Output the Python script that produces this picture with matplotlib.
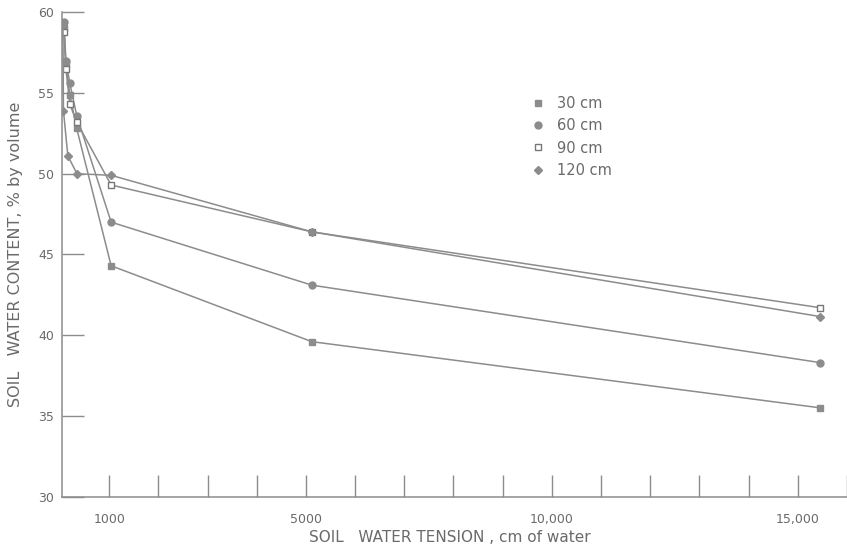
import matplotlib
matplotlib.use("Agg")
import matplotlib.pyplot as plt
from matplotlib.lines import Line2D

# Data
tension_30 = [80, 120, 200, 340, 1040, 5120, 15460]
content_30 = [59.0, 56.8, 54.9, 52.8, 44.3, 39.6, 35.5]

tension_60 = [80, 120, 200, 340, 1040, 5120, 15460]
content_60 = [59.4, 57.0, 55.6, 53.6, 47.0, 43.1, 38.3]

tension_90 = [80, 120, 200, 340, 1040, 5120, 15460]
content_90 = [58.8, 56.5, 54.3, 53.2, 49.3, 46.4, 41.7]

tension_120 = [60, 70, 160, 345, 1040, 5120, 15460]
content_120 = [59.3, 53.9, 51.1, 50.0, 49.9, 46.4, 41.15]

series_labels = ["30 cm", "60 cm", "90 cm", "120 cm"]
x_major = [1000, 5000, 10000, 15000]
x_major_labels = ["1000", "5000", "10,000", "15,000"]
x_minor = list(range(1000, 17000, 1000))
y_ticks = [30, 35, 40, 45, 50, 55, 60]

GRAY = "#8c8c8c"
TEXT = "#6a6a6a"

fig = plt.figure(figsize=(8.47, 5.46), dpi=100)
ax = fig.add_axes([62.3 / 847, 1 - 496.7 / 546, 1 - 62.3 / 847, (496.7 - 12.2) / 546])

styles = [
    dict(marker="s", ms=5.0, mfc=GRAY, mec=GRAY),
    dict(marker="o", ms=5.0, mfc=GRAY, mec=GRAY),
    dict(marker="s", ms=5.0, mfc="white", mec="#777777", mew=1.0),
    dict(marker="D", ms=3.8, mfc=GRAY, mec=GRAY),
]
data = [(tension_30, content_30), (tension_60, content_60),
        (tension_90, content_90), (tension_120, content_120)]

for (xs, ys), st in zip(data, styles):
    ax.plot(xs, ys, color=GRAY, lw=1.1, **st)

ax.set_xlim(47, 16000)
ax.set_ylim(30, 60)

for s in ["top", "right"]:
    ax.spines[s].set_visible(False)
for s in ["left", "bottom"]:
    ax.spines[s].set_color(GRAY)
    ax.spines[s].set_linewidth(1.1)

ax.set_xticks(x_major)
ax.set_xticklabels(x_major_labels)
ax.set_xticks(x_minor, minor=True)
ax.set_yticks(y_ticks)
ax.tick_params(axis="x", which="both", direction="in", length=16, width=1.0,
               color=GRAY, labelcolor=TEXT, labelsize=9, pad=12)
ax.tick_params(axis="y", direction="in", length=16, width=1.0,
               color=GRAY, labelcolor=TEXT, labelsize=9, pad=6)

fig.text(450 / 847, 1 - 538 / 546, "SOIL   WATER TENSION , cm of water",
         fontsize=11, color=TEXT, ha="center", va="center")
ax.set_ylabel("SOIL   WATER CONTENT, % by volume", fontsize=11.5, color=TEXT, labelpad=11)

handles = [Line2D([], [], linestyle="none", **st) for st in styles]
leg = fig.legend(handles, series_labels, loc="upper left",
                 bbox_to_anchor=(531 / 847, 1 - 96 / 546), frameon=False,
                 fontsize=10.5, handlelength=1.0, handletextpad=0.75,
                 labelspacing=0.5, borderpad=0, borderaxespad=0)
for t in leg.get_texts():
    t.set_color(TEXT)

fig.savefig("out.png", dpi=100)
